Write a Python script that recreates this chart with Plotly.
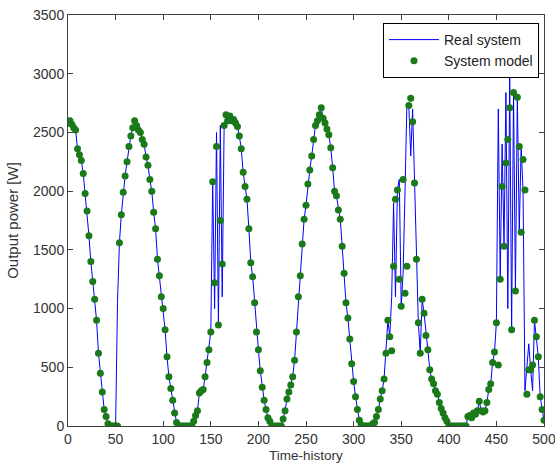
import plotly.graph_objects as go

time = list(range(0, 501, 2))

model_power = [
    2580, 2600, 2570, 2540, 2520, 2360, 2310, 2260, 2150, 1980,
    1830, 1620, 1400, 1230, 1080, 900, 620, 450, 290, 140,
    80, 20, 0, 0, 0, 0, 0, 1560, 1800, 1990,
    2130, 2250, 2380, 2470, 2540, 2600, 2560, 2520, 2500, 2440,
    2400, 2290, 2220, 2100, 2000, 1820, 1680, 1420, 1280, 1100,
    1000, 820, 590, 420, 320, 220, 110, 30, 0, 0,
    0, 0, 0, 0, 0, 0, 40, 90, 130, 280,
    300, 310, 420, 540, 650, 800, 2080, 1220, 2380, 860,
    1750, 1380, 2560, 2650, 2600, 2640, 2600, 2610, 2580, 2550,
    2470, 2360, 2160, 2040, 1930, 1680, 1390, 1270, 1050, 800,
    650, 470, 330, 220, 140, 70, 40, 0, 0, 0,
    0, 0, 0, 60, 130, 230, 290, 350, 420, 560,
    800, 1100, 1280, 1550, 1760, 1880, 2060, 2180, 2300, 2440,
    2560, 2600, 2650, 2710, 2620, 2580, 2530, 2480, 2370, 2200,
    2000, 1960, 1840, 1760, 1530, 1300, 1050, 920, 740, 530,
    380, 250, 140, 50, 10, 0, 0, 0, 0, 0,
    20, 30, 80, 140, 230, 300, 400, 620, 900, 760,
    640, 1360, 1930, 2010, 1250, 1020, 2100, 1130, 1360, 2730,
    2790, 2590, 2070, 1420, 880, 620, 1080, 960, 770, 650,
    480, 400, 360, 300, 270, 200, 150, 110, 70, 40,
    0, 0, 0, 0, 0, 0, 0, 0, 0, 0,
    80, 90, 70, 110, 100, 130, 210, 130, 120, 130,
    200, 310, 360, 540, 630, 880, 520, 1250, 2040, 1530,
    2240, 2440, 2710, 820, 2840, 1150, 2800, 2380, 1650, 2270,
    2010, 270, 480, 480, 520, 900, 760, 590, 250, 140,
    50,
]

real_power = [
    2580, 2600, 2570, 2540, 2520, 2360, 2310, 2260, 2150, 1980,
    1830, 1620, 1400, 1230, 1080, 900, 620, 450, 290, 140,
    80, 20, 0, 0, 0, 0, 1050, 1560, 1800, 1990,
    2130, 2250, 2380, 2470, 2540, 2600, 2560, 2520, 2500, 2440,
    2400, 2290, 2220, 2100, 2000, 1820, 1680, 1420, 1280, 1100,
    1000, 820, 590, 420, 320, 220, 110, 30, 0, 0,
    0, 0, 0, 0, 0, 0, 40, 90, 130, 280,
    300, 310, 420, 540, 650, 800, 2080, 1000, 2500, 860,
    2560, 1100, 2560, 2650, 2600, 2640, 2600, 2610, 2580, 2550,
    2470, 2360, 2160, 2040, 1930, 1680, 1390, 1270, 1050, 800,
    650, 470, 330, 220, 140, 70, 40, 0, 0, 0,
    0, 0, 0, 60, 130, 230, 290, 350, 420, 560,
    800, 1100, 1280, 1550, 1760, 1880, 2060, 2180, 2300, 2440,
    2560, 2600, 2650, 2710, 2620, 2580, 2530, 2480, 2370, 2200,
    2000, 1960, 1840, 1760, 1530, 1300, 1050, 920, 740, 530,
    380, 250, 140, 50, 10, 0, 0, 0, 0, 0,
    20, 30, 80, 140, 230, 300, 400, 620, 900, 760,
    1100, 1900, 1100, 2010, 2100, 1020, 1300, 2000, 2750, 2730,
    2300, 2700, 2070, 1420, 880, 620, 1080, 960, 770, 650,
    480, 400, 360, 300, 270, 200, 150, 110, 70, 40,
    0, 0, 0, 0, 0, 0, 0, 0, 0, 0,
    80, 90, 70, 110, 100, 130, 210, 130, 120, 130,
    200, 310, 360, 540, 630, 880, 2700, 1250, 2400, 1530,
    2840, 1000, 2980, 820, 2840, 1150, 2800, 1650, 2380, 2000,
    300, 480, 700, 480, 300, 900, 760, 590, 250, 140,
    50,
]

x_ticks = [0, 50, 100, 150, 200, 250, 300, 350, 400, 450, 500]
y_ticks = [0, 500, 1000, 1500, 2000, 2500, 3000, 3500]

axis_color = "#404040"
font_family = "Liberation Sans, Arial, sans-serif"

fig = go.Figure()
fig.add_trace(go.Scatter(
    x=time, y=real_power, mode="lines", name="Real system",
    line=dict(color="#0000ff", width=1),
))
fig.add_trace(go.Scatter(
    x=time, y=model_power, mode="markers", name="System model",
    marker=dict(color="#1a7a1a", size=7, symbol="circle"),
))

fig.update_layout(
    width=555, height=467,
    margin=dict(l=68, r=11, t=15, b=41),
    paper_bgcolor="white", plot_bgcolor="white",
    font=dict(family=font_family, size=14, color="#333333"),
    showlegend=True,
    legend=dict(
        x=1 - 5 / 476, y=1 - 8 / 411, xanchor="right", yanchor="top",
        bgcolor="white", bordercolor="black", borderwidth=1,
        font=dict(size=14, color="#222222"),
        tracegroupgap=0, itemwidth=50,
    ),
)
fig.update_xaxes(
    range=[0, 500], tickvals=x_ticks, showgrid=False, zeroline=False,
    showline=True, linecolor=axis_color, linewidth=1, mirror="ticks",
    ticks="inside", ticklen=5, tickcolor=axis_color,
    ticklabeloverflow="allow",
    title=dict(text="Time-history", standoff=4, font=dict(size=13.5)),
    automargin=False,
)
fig.update_yaxes(
    range=[0, 3500], tickvals=y_ticks, showgrid=False, zeroline=False,
    showline=True, linecolor=axis_color, linewidth=1, mirror="ticks",
    ticks="inside", ticklen=5, tickcolor=axis_color,
    ticklabeloverflow="allow",
    title=dict(text="Output power [W]", standoff=10, font=dict(size=15)),
    automargin=False,
)

# remove the page's default body margin so the figure sits at the window origin
fig.write_html(
    "out.html",
    config={"displayModeBar": False},
    post_script="document.body.style.margin='0px';document.body.style.overflow='hidden';",
)
